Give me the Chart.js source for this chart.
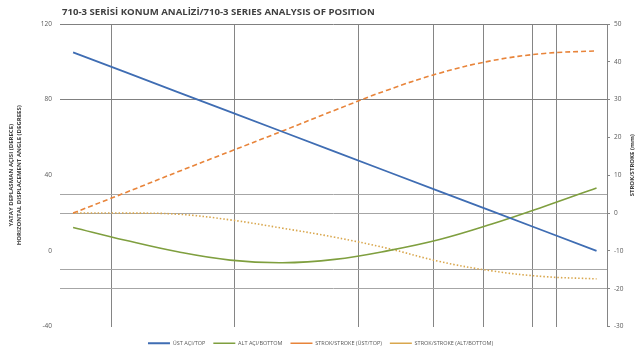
<!DOCTYPE html>
<html>
<head>
<meta charset="utf-8">
<script src="https://cdn.jsdelivr.net/npm/chart.js@4.4.1/dist/chart.umd.min.js"></script>
<style>
  html, body { margin: 0; padding: 0; background: #ffffff; }
  #wrap { width: 641px; height: 356px; }
</style>
</head>
<body>
<div id="wrap"><canvas id="position-chart"></canvas></div>
<script>
// position along the travel (no labels on the x axis in the original)
const positions = [0, 10, 20, 30, 40, 50, 60, 70, 80, 90, 100];

// left axis, degrees
const openingAngle = [105, 94.5, 84, 73.5, 63, 52.5, 42, 31.5, 21, 10.5, 0];
const tiltAngle = [12.4, 5.6, -0.5, -4.9, -6.3, -4.5, 0, 6, 14.2, 23.5, 33.3];

// right axis, mm
const strokeDashed = [0, 5.4, 10.9, 16.3, 21.7, 27.2, 32.5, 37, 40.3, 42.2, 42.9];
const strokeDotted = [0, 0, -0.3, -1.8, -4.0, -6.4, -9.3, -12.8, -15.3, -16.8, -17.4];

const seriesNames = [
  'ÜST AÇI/TOP',
  'ALT AÇI/BOTTOM',
  'STROK/STROKE (ÜST/TOP)',
  'STROK/STROKE (ALT/BOTTOM)'
];

// tick labels and the reference lines of the original sheet
const leftTicks = [120, 80, 40, 0, -40];
const leftRefLines = [80, 30, 20, -10, -20];
const rightTicks = [50, 40, 30, 20, 10, 0, -10, -20, -30];
const verticalRefLines = [7.4, 30.9, 54.6, 68.8, 78.4, 87.8, 92.4];

const TITLE = '710-3 SERİSİ KONUM ANALİZİ/710-3 SERIES ANALYSIS OF POSITION';
const RIGHT_TITLE = 'STROK/STROKE (mm)';

const toPoints = (vals) => vals.map((v, i) => ({ x: positions[i], y: v }));

// title over the plot's left edge, and the right axis title read bottom-to-top
const extraText = {
  id: 'extraText',
  afterDraw(chart) {
    const { ctx, chartArea } = chart;
    ctx.save();
    ctx.font = "bold 9.6px 'Open Sans', sans-serif";
    ctx.fillStyle = '#404040';
    ctx.textBaseline = 'middle';
    ctx.fillText(TITLE, chartArea.left + 2, 12);

    ctx.translate(632, (chartArea.top + chartArea.bottom) / 2 - 10);
    ctx.rotate(-Math.PI / 2);
    ctx.textAlign = 'center';
    ctx.font = "bold 6px 'Open Sans', sans-serif";
    ctx.fillText(RIGHT_TITLE, 0, 0);
    ctx.restore();
  }
};

const ctx = document.getElementById('position-chart').getContext('2d');

new Chart(ctx, {
  type: 'line',
  data: {
    datasets: [
      {
        label: seriesNames[0],
        data: toPoints(openingAngle),
        yAxisID: 'yL',
        borderColor: '#3f6db3',
        borderWidth: 1.8,
        tension: 0
      },
      {
        label: seriesNames[1],
        data: toPoints(tiltAngle),
        yAxisID: 'yL',
        borderColor: '#7f9f3f',
        borderWidth: 1.6,
        tension: 0.4
      },
      {
        label: seriesNames[2],
        data: toPoints(strokeDashed),
        yAxisID: 'yR',
        borderColor: '#e8843a',
        borderWidth: 1.6,
        borderDash: [5, 3],
        tension: 0.4
      },
      {
        label: seriesNames[3],
        data: toPoints(strokeDotted),
        yAxisID: 'yR',
        borderColor: '#d9a74e',
        borderWidth: 1.6,
        borderDash: [1.5, 2],
        tension: 0.4
      }
    ]
  },
  options: {
    responsive: true,
    maintainAspectRatio: false,
    animation: false,
    layout: { padding: { top: 24, right: 0, bottom: 0, left: 0 } },
    elements: { point: { radius: 0 } },
    plugins: {
      title: { display: false },
      tooltip: { enabled: false },
      legend: {
        position: 'bottom',
        labels: {
          usePointStyle: true,
          pointStyle: 'line',
          pointStyleWidth: 22,
          boxHeight: 5,
          padding: 8,
          color: '#595959',
          font: { size: 5.5, family: "'Open Sans', sans-serif" }
        }
      }
    },
    scales: {
      x: {
        type: 'linear',
        min: -2.5,
        max: 102,
        afterBuildTicks: (s) => { s.ticks = verticalRefLines.map(v => ({ value: v })); },
        afterFit: (s) => { s.height = 6; },
        ticks: { display: false },
        border: { display: false },
        grid: { color: '#858585', lineWidth: 1, drawTicks: false }
      },
      yL: {
        position: 'left',
        min: -40,
        max: 120,
        afterBuildTicks: (s) => {
          const all = [...new Set([...leftTicks, ...leftRefLines])].sort((a, b) => a - b);
          s.ticks = all.map(v => ({ value: v }));
        },
        afterFit: (s) => { s.width = 60; },
        ticks: {
          color: '#595959',
          font: { size: 6.5, family: "'Open Sans', sans-serif" },
          padding: 8,
          callback: (v) => leftTicks.includes(v) ? String(v) : ''
        },
        border: { display: false },
        grid: {
          drawTicks: false,
          color: (c) => {
            const v = c.tick.value;
            if (v === 120 || v === 80) return '#808080';
            if (leftRefLines.includes(v)) return '#a6a6a6';
            return 'rgba(0,0,0,0)';
          }
        },
        title: {
          display: true,
          text: ['YATAY DEPLASMAN AÇISI (DERECE)', 'HORIZONTAL DISPLACEMENT ANGLE (DEGREES)'],
          color: '#404040',
          font: { size: 6, weight: 'bold', family: "'Open Sans', sans-serif" },
          padding: { top: 8, bottom: 0 }
        }
      },
      yR: {
        position: 'right',
        min: -30,
        max: 50,
        afterBuildTicks: (s) => { s.ticks = rightTicks.map(v => ({ value: v })); },
        afterFit: (s) => { s.width = 34; },
        ticks: {
          color: '#595959',
          font: { size: 6.5, family: "'Open Sans', sans-serif" },
          padding: 4
        },
        border: { display: true, color: '#858585' },
        grid: { drawOnChartArea: false, drawTicks: true, tickLength: 3, color: '#858585' }
      }
    }
  },
  plugins: [extraText]
});
</script>
</body>
</html>
